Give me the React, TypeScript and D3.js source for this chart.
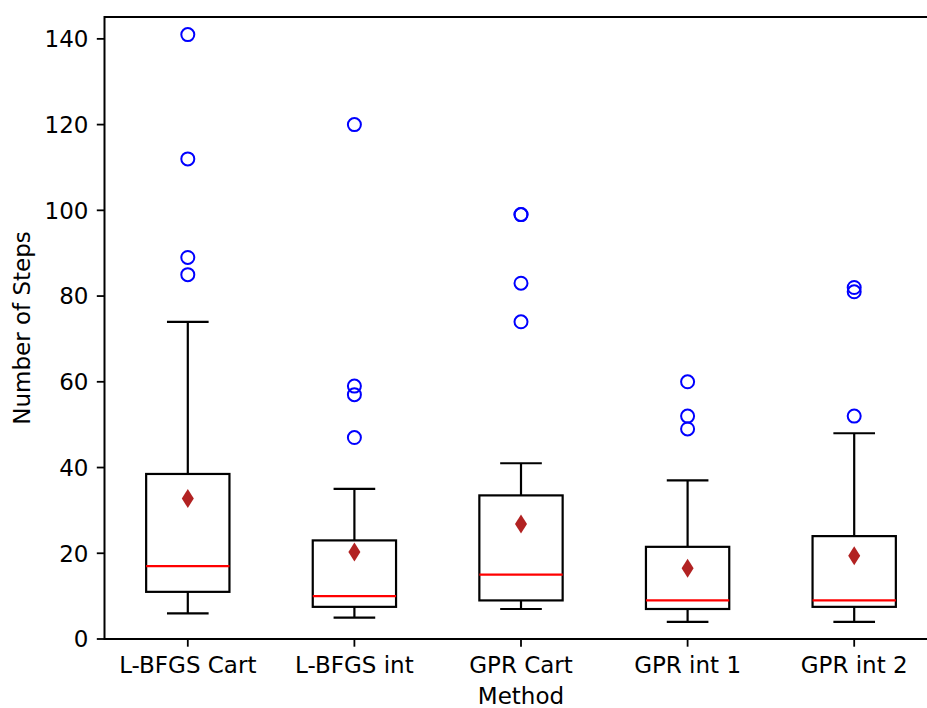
import React from "react";
import * as d3 from "d3";

const categories = ["L-BFGS Cart", "L-BFGS int", "GPR Cart", "GPR int 1", "GPR int 2"];
const whiskerLow = [6, 5, 7, 4, 4];
const q1 = [11, 7.5, 9, 7, 7.5];
const medians = [17, 10, 15, 9, 9];
const q3 = [38.5, 23, 33.5, 21.5, 24];
const whiskerHigh = [74, 35, 41, 37, 48];
const means = [32.8, 20.3, 26.8, 16.5, 19.4];
const outliers = [
  [85, 89, 112, 141],
  [47, 57, 59, 120],
  [74, 83, 99, 99],
  [49, 52, 60],
  [52, 81, 82],
];
const yTicks = [0, 20, 40, 60, 80, 100, 120, 140];

const W = 927;
const H = 708;
const left = 104.5;
const right = 937.5;
const top = 17;
const bottom = 639;
const FONT = "DejaVu Sans, sans-serif";
const FS = 23;

export default function App() {
  const x = d3.scaleLinear().domain([0.5, 5.5]).range([left, right]);
  const y = d3.scaleLinear().domain([0, 145.1]).range([bottom, top]);
  const bw = x(1.25) - x(1);
  const cw = x(1.125) - x(1);
  const lw = 2.2;
  const diamond = (cx: number, cy: number) =>
    `M${cx},${cy - 9.5} L${cx + 6},${cy} L${cx},${cy + 9.5} L${cx - 6},${cy} Z`;

  return (
    <svg
      width={W}
      height={H}
      style={{ position: "absolute", left: 0, top: 0, background: "#fff" }}
      fontFamily={FONT}
    >
      <rect x={0} y={0} width={W} height={H} fill="#fff" />
      {categories.map((c, i) => {
        const cx = x(i + 1);
        return (
          <g key={c}>
            <line x1={cx} x2={cx} y1={y(q1[i])} y2={y(whiskerLow[i])} stroke="#000" strokeWidth={lw} />
            <line x1={cx} x2={cx} y1={y(q3[i])} y2={y(whiskerHigh[i])} stroke="#000" strokeWidth={lw} />
            <line x1={cx - cw} x2={cx + cw} y1={y(whiskerLow[i])} y2={y(whiskerLow[i])} stroke="#000" strokeWidth={lw} />
            <line x1={cx - cw} x2={cx + cw} y1={y(whiskerHigh[i])} y2={y(whiskerHigh[i])} stroke="#000" strokeWidth={lw} />
            <rect
              x={cx - bw}
              y={y(q3[i])}
              width={2 * bw}
              height={y(q1[i]) - y(q3[i])}
              fill="none"
              stroke="#000"
              strokeWidth={lw}
            />
            <line x1={cx - bw} x2={cx + bw} y1={y(medians[i])} y2={y(medians[i])} stroke="#ff0000" strokeWidth={lw} />
            <path d={diamond(cx, y(means[i]))} fill="#b22222" />
            {outliers[i].map((v, j) => (
              <circle key={j} cx={cx} cy={y(v)} r={6.5} fill="none" stroke="#0000ff" strokeWidth={2} />
            ))}
          </g>
        );
      })}
      <rect x={left} y={top} width={right - left} height={bottom - top} fill="none" stroke="#000" strokeWidth={2} />
      {yTicks.map((t) => (
        <g key={t}>
          <line x1={left - 7.7} x2={left} y1={y(t)} y2={y(t)} stroke="#000" strokeWidth={1.8} />
          <text x={left - 16} y={y(t)} dy="0.36em" textAnchor="end" fontSize={FS} fill="#000">
            {t}
          </text>
        </g>
      ))}
      {categories.map((c, i) => (
        <g key={c}>
          <line x1={x(i + 1)} x2={x(i + 1)} y1={bottom} y2={bottom + 7.7} stroke="#000" strokeWidth={1.8} />
          <text x={x(i + 1)} y={672.5} textAnchor="middle" fontSize={FS} fill="#000">
            {c}
          </text>
        </g>
      ))}
      <text x={(left + right) / 2} y={703.5} textAnchor="middle" fontSize={FS} fill="#000">
        Method
      </text>
      <text
        transform={`translate(30, ${(top + bottom) / 2}) rotate(-90)`}
        textAnchor="middle"
        fontSize={FS}
        fill="#000"
      >
        Number of Steps
      </text>
    </svg>
  );
}
